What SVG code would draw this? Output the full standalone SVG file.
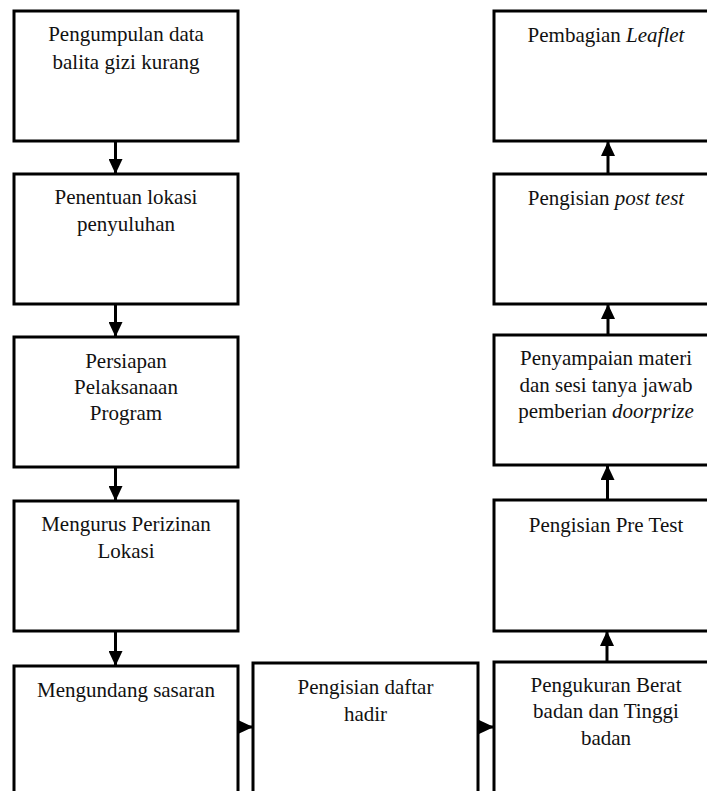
<svg xmlns="http://www.w3.org/2000/svg" width="707" height="791" viewBox="0 0 707 791">
<style>
.box{fill:#fff;stroke:#000;stroke-width:3}
.t{font-family:"Liberation Serif","Times New Roman",serif;font-size:21px;fill:#111;text-anchor:middle}
.i{font-style:italic}
.c{stroke:#000;stroke-width:3;fill:none;marker-end:url(#ah)}
</style>
<defs>
<marker id="ah" viewBox="0 0 15 14" refX="15" refY="7" markerWidth="15" markerHeight="14" markerUnits="userSpaceOnUse" orient="auto">
<path d="M0,0 L15,7 L0,14 z" fill="#000"/>
</marker>
</defs>
<rect width="707" height="791" fill="#fff"/>
<g id="n1"><rect class="box" x="14" y="11" width="224" height="130"/>
<text class="t" x="126" y="41">Pengumpulan data</text><text class="t" x="126" y="69">balita gizi kurang</text></g>
<g id="n2"><rect class="box" x="14" y="174" width="224" height="130"/>
<text class="t" x="126" y="204">Penentuan lokasi</text><text class="t" x="126" y="231">penyuluhan</text></g>
<g id="n3"><rect class="box" x="14" y="337" width="224" height="130"/>
<text class="t" x="126" y="368">Persiapan</text><text class="t" x="126" y="394">Pelaksanaan</text><text class="t" x="126" y="420">Program</text></g>
<g id="n4"><rect class="box" x="14" y="501" width="224" height="130"/>
<text class="t" x="126" y="531">Mengurus Perizinan</text><text class="t" x="126" y="558">Lokasi</text></g>
<g id="n5"><rect class="box" x="14" y="666" width="224" height="140"/>
<text class="t" x="126" y="697">Mengundang sasaran</text></g>
<g id="n6"><rect class="box" x="253" y="663" width="225" height="140"/>
<text class="t" x="365.5" y="694">Pengisian daftar</text><text class="t" x="365.5" y="721">hadir</text></g>
<g id="n7"><rect class="box" x="494" y="662" width="224" height="140"/>
<text class="t" x="606" y="692">Pengukuran Berat</text><text class="t" x="606" y="718">badan dan Tinggi</text><text class="t" x="606" y="745">badan</text></g>
<g id="n8"><rect class="box" x="494" y="500" width="224" height="131"/>
<text class="t" x="606" y="532">Pengisian Pre Test</text></g>
<g id="n9"><rect class="box" x="494" y="335" width="224" height="130"/>
<text class="t" x="606" y="365">Penyampaian materi</text><text class="t" x="606" y="392">dan sesi tanya jawab</text><text class="t" x="606" y="418">pemberian <tspan class="i">doorprize</tspan></text></g>
<g id="n10"><rect class="box" x="494" y="174" width="224" height="130"/>
<text class="t" x="606" y="205">Pengisian <tspan class="i">post test</tspan></text></g>
<g id="n11"><rect class="box" x="494" y="11" width="224" height="130"/>
<text class="t" x="606" y="42">Pembagian <tspan class="i">Leaflet</tspan></text></g>
<g id="connectors">
<line class="c" x1="115.5" y1="141" x2="115.5" y2="174"/>
<line class="c" x1="115.5" y1="304" x2="115.5" y2="337"/>
<line class="c" x1="115.5" y1="467" x2="115.5" y2="501"/>
<line class="c" x1="115.5" y1="631" x2="115.5" y2="666"/>
<line class="c" x1="238" y1="727" x2="253" y2="727"/>
<line class="c" x1="478" y1="727" x2="494" y2="727"/>
<line class="c" x1="607" y1="662" x2="607" y2="631"/>
<line class="c" x1="607.5" y1="500" x2="607.5" y2="465"/>
<line class="c" x1="608" y1="335" x2="608" y2="304"/>
<line class="c" x1="608" y1="174" x2="608" y2="141"/>
</g>
</svg>
